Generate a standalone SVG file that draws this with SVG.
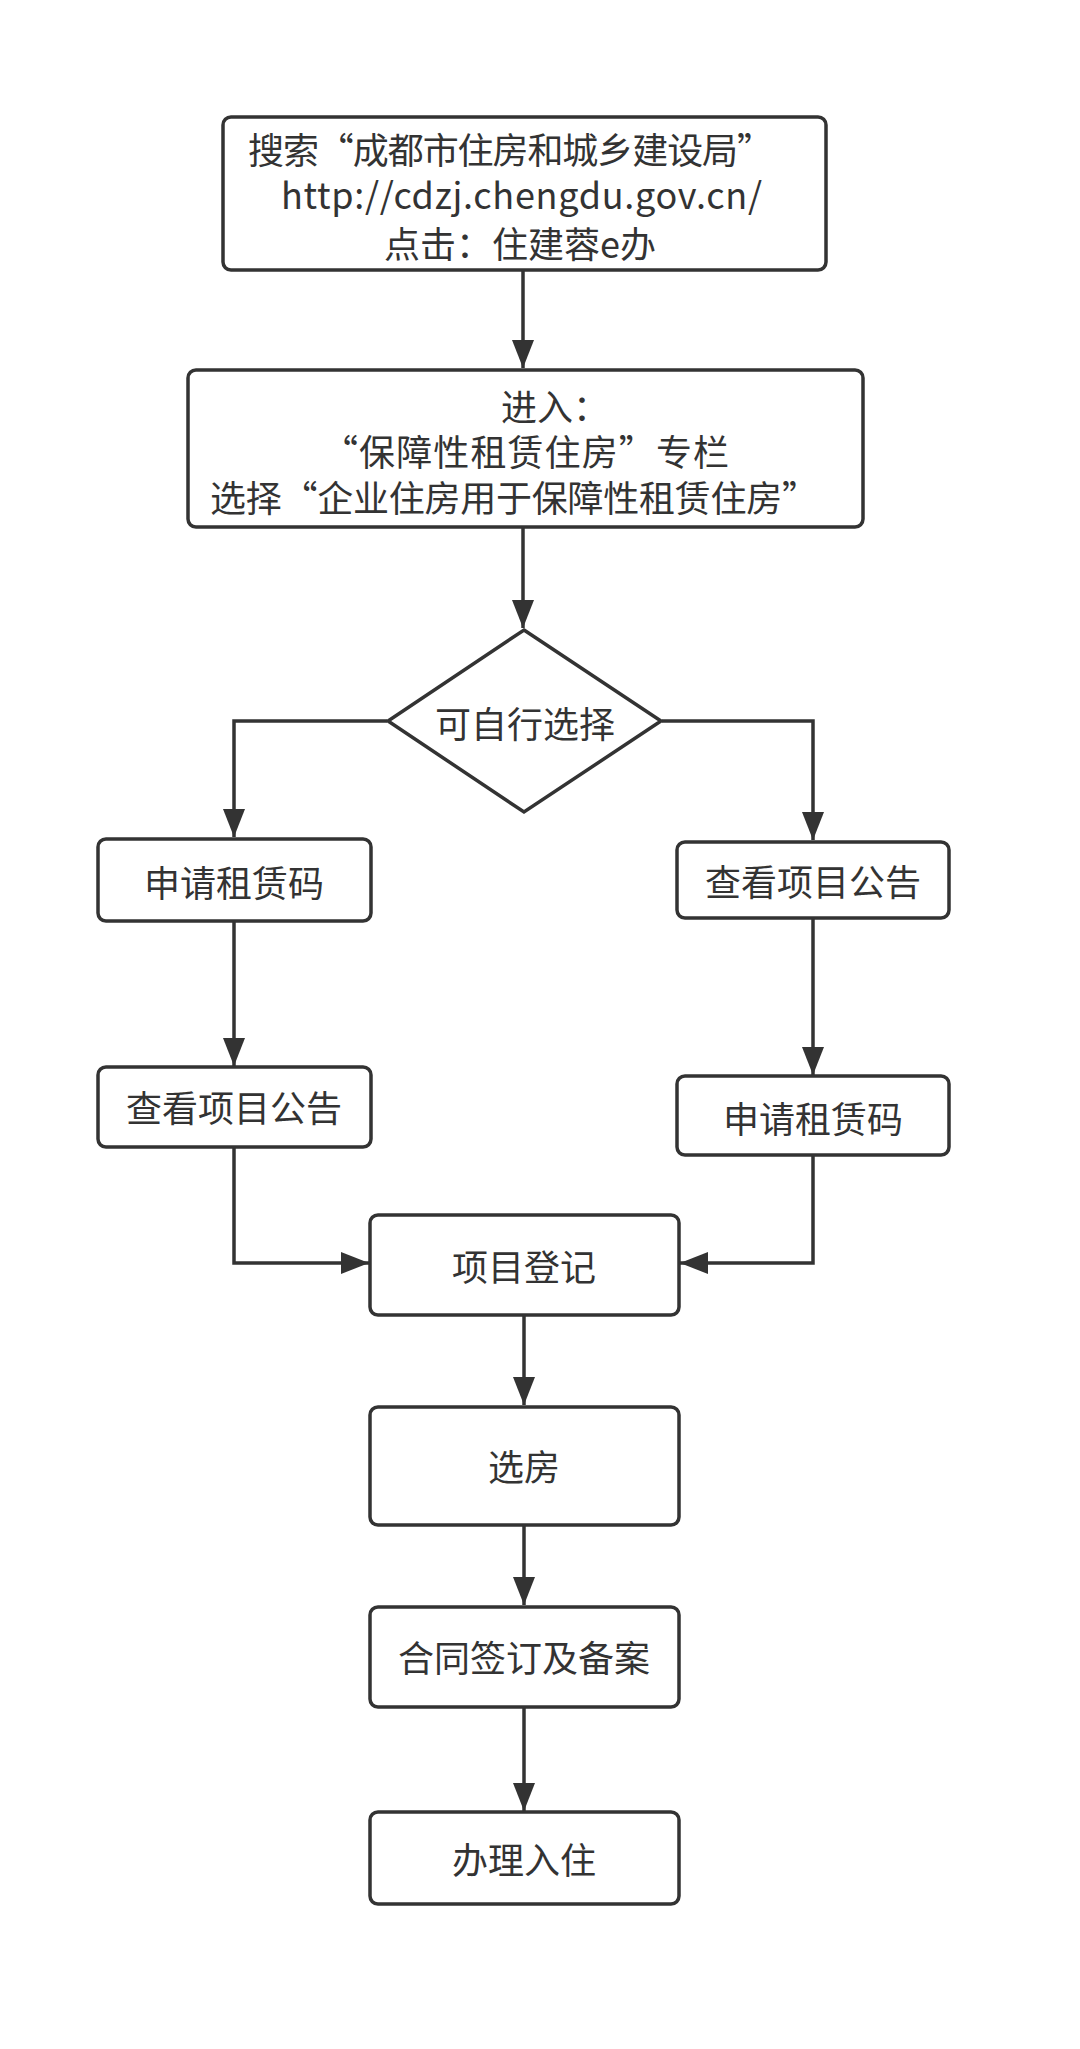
<svg xmlns="http://www.w3.org/2000/svg" width="1080" height="2049" viewBox="0 0 1080 2049">
<style>
.box{fill:#fff;stroke:#333;stroke-width:3.5}
.t{font-family:"Microsoft YaHei","Noto Sans CJK SC","Noto Sans",sans-serif;font-size:36px;fill:#333;dominant-baseline:central}
.c{text-anchor:middle}
.edge{fill:none;stroke:#333;stroke-width:3.5}
</style>
<defs>
<marker id="arr" markerUnits="userSpaceOnUse" markerWidth="28" markerHeight="22" refX="28" refY="11" orient="auto">
<path d="M0,0 L28,11 L0,22 z" fill="#333"/>
</marker>
</defs>
<rect width="1080" height="2049" fill="#fff"/>
<g id="connectors">
<path class="edge" d="M523,271 V368" marker-end="url(#arr)"/>
<path class="edge" d="M523,527 V628" marker-end="url(#arr)"/>
<path class="edge" d="M387,721 H234 V837" marker-end="url(#arr)"/>
<path class="edge" d="M662,721 H813 V840" marker-end="url(#arr)"/>
<path class="edge" d="M234,921 V1066" marker-end="url(#arr)"/>
<path class="edge" d="M813,918 V1075" marker-end="url(#arr)"/>
<path class="edge" d="M234,1147 V1263 H369" marker-end="url(#arr)"/>
<path class="edge" d="M813,1155 V1263 H680" marker-end="url(#arr)"/>
<path class="edge" d="M524,1315 V1405" marker-end="url(#arr)"/>
<path class="edge" d="M524,1525 V1605" marker-end="url(#arr)"/>
<path class="edge" d="M524,1707 V1811" marker-end="url(#arr)"/>
</g>
<g id="n1">
<rect class="box" x="223" y="117" width="603" height="153" rx="8"/>
<text class="t" x="248" y="148" textLength="525" lengthAdjust="spacing">搜索“成都市住房和城乡建设局”</text>
<text class="t" x="281" y="193" textLength="481" lengthAdjust="spacing">http://cdzj.chengdu.gov.cn/</text>
<text class="t" x="384" y="242">点击：住建蓉e办</text>
</g>
<g id="n2">
<rect class="box" x="188" y="370" width="675" height="157" rx="8"/>
<text class="t" x="501" y="405">进入：</text>
<text class="t" x="322" y="450" textLength="407" lengthAdjust="spacing">“保障性租赁住房”专栏</text>
<text class="t" x="210" y="496" textLength="608" lengthAdjust="spacing">选择“企业住房用于保障性租赁住房”</text>
</g>
<g id="n3">
<polygon class="box" points="524,630 661,721 524,812 388,721"/>
<text class="t c" x="525" y="722">可自行选择</text>
</g>
<g id="n4">
<rect class="box" x="98" y="839" width="273" height="82" rx="8"/>
<text class="t c" x="234" y="881">申请租赁码</text>
</g>
<g id="n5">
<rect class="box" x="677" y="842" width="272" height="76" rx="8"/>
<text class="t c" x="813" y="880">查看项目公告</text>
</g>
<g id="n6">
<rect class="box" x="98" y="1067" width="273" height="80" rx="8"/>
<text class="t c" x="234" y="1106">查看项目公告</text>
</g>
<g id="n7">
<rect class="box" x="677" y="1076" width="272" height="79" rx="8"/>
<text class="t c" x="813" y="1117">申请租赁码</text>
</g>
<g id="n8">
<rect class="box" x="370" y="1215" width="309" height="100" rx="8"/>
<text class="t c" x="524" y="1265">项目登记</text>
</g>
<g id="n9">
<rect class="box" x="370" y="1407" width="309" height="118" rx="8"/>
<text class="t c" x="524" y="1465">选房</text>
</g>
<g id="n10">
<rect class="box" x="370" y="1607" width="309" height="100" rx="8"/>
<text class="t c" x="524" y="1656">合同签订及备案</text>
</g>
<g id="n11">
<rect class="box" x="370" y="1812" width="309" height="92" rx="8"/>
<text class="t c" x="524" y="1858">办理入住</text>
</g>
</svg>
